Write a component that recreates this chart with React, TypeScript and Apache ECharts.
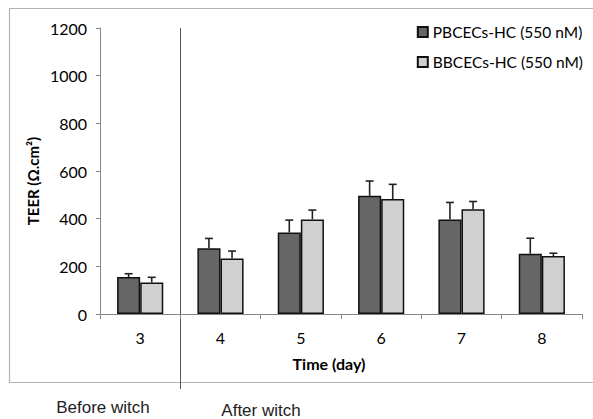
import React, { useEffect, useRef } from "react";
import * as echarts from "echarts";

const days = ["3", "4", "5", "6", "7", "8"];
const seriesNames = ["PBCECs-HC (550 nM)", "BBCECs-HC (550 nM)"];
const pbcec = [155, 276, 342, 496, 397, 253];
const pbcecErr = [14, 41, 52, 62, 71, 65];
const bbcec = [132, 233, 397, 482, 439, 243];
const bbcecErr = [22, 31, 39, 62, 33, 12];
const yTicks = { min: 0, max: 1200, interval: 200 };

const W = 593;
const H = 419;
const GRID = { left: 100, right: 11, top: 28, bottom: 105 };
const CAT_GAP = 0.425;
const FONT = "Lato, 'DejaVu Sans', sans-serif";

function errSeries(values: number[], errs: number[], side: number) {
  return {
    type: "custom",
    silent: true,
    z: 5,
    data: values.map((v, i) => [i, v, v + errs[i]]),
    renderItem: (params: any, api: any) => {
      const band = api.size([1, 0])[0];
      const barW = (band * (1 - CAT_GAP)) / 2;
      const base = api.coord([api.value(0), api.value(1)]);
      const top = api.coord([api.value(0), api.value(2)]);
      const x = base[0] + (side * barW) / 2;
      const style = { stroke: "#222", lineWidth: 1.6 };
      return {
        type: "group",
        children: [
          { type: "line", shape: { x1: x, y1: base[1], x2: x, y2: top[1] }, style },
          { type: "line", shape: { x1: x - 4, y1: top[1], x2: x + 4, y2: top[1] }, style },
        ],
      };
    },
  };
}

export default function App() {
  const ref = useRef<HTMLDivElement>(null);
  useEffect(() => {
    if (!ref.current) return;
    const chart = echarts.init(ref.current, null, { renderer: "svg" });
    const plotW = W - GRID.left - GRID.right;
    const divX = Math.round(GRID.left + plotW / days.length) + 0.5;
    chart.setOption({
      animation: false,
      backgroundColor: "#fff",
      grid: { ...GRID, containLabel: false },
      legend: {
        orient: "vertical",
        right: 5,
        top: 17,
        itemWidth: 10,
        itemHeight: 10,
        itemGap: 10,
        icon: "rect",
        textStyle: { fontFamily: FONT, fontSize: 15.5, color: "#000", lineHeight: 20 },
        data: seriesNames,
      },
      xAxis: {
        type: "category",
        data: days,
        axisLine: { lineStyle: { color: "#868686", width: 1 } },
        axisTick: { show: true, length: 5, lineStyle: { color: "#868686" } },
        axisLabel: { fontFamily: FONT, fontSize: 16, color: "#000", margin: 15 },
        splitLine: { show: false },
      },
      yAxis: {
        type: "value",
        ...yTicks,
        axisLine: { show: true, lineStyle: { color: "#868686", width: 1 } },
        axisTick: { show: true, length: 4, lineStyle: { color: "#868686" } },
        axisLabel: {
          fontFamily: FONT,
          fontSize: 16,
          color: "#000",
          margin: 13,
          formatter: (v: number) => String(v),
        },
        splitLine: { show: false },
      },
      series: [
        {
          name: seriesNames[0],
          type: "bar",
          data: pbcec,
          barGap: "0%",
          barCategoryGap: CAT_GAP * 100 + "%",
          itemStyle: { color: "#666666", borderColor: "#111", borderWidth: 1.5 },
        },
        {
          name: seriesNames[1],
          type: "bar",
          data: bbcec,
          barGap: "0%",
          barCategoryGap: CAT_GAP * 100 + "%",
          itemStyle: { color: "#d0d0d0", borderColor: "#111", borderWidth: 1.5 },
        },
        errSeries(pbcec, pbcecErr, -1),
        errSeries(bbcec, bbcecErr, 1),
      ],
      graphic: [
        {
          type: "rect",
          shape: { x: 9.5, y: 8.5, width: 600, height: 374 },
          style: { fill: "none", stroke: "#b4b4b4", lineWidth: 1.2 },
          silent: true,
          z: -1,
        },
        {
          type: "line",
          shape: { x1: divX, y1: GRID.top, x2: divX, y2: 389 },
          style: { stroke: "#555", lineWidth: 1 },
          silent: true,
        },
        {
          type: "text",
          x: 33,
          y: 181,
          rotation: Math.PI / 2,
          style: {
            text: "TEER (Ω.cm²)",
            font: "bold 15px " + FONT,
            fill: "#000",
            textAlign: "center",
            textVerticalAlign: "middle",
          },
        },
        {
          type: "text",
          x: 329,
          y: 363,
          style: {
            text: "Time (day)",
            font: "bold 16px " + FONT,
            fill: "#000",
            textAlign: "center",
            textVerticalAlign: "middle",
          },
        },
        {
          type: "text",
          x: 103,
          y: 407,
          style: {
            text: "Before witch",
            font: "17px 'Liberation Sans', Arial, sans-serif",
            fill: "#222",
            textAlign: "center",
            textVerticalAlign: "middle",
          },
        },
        {
          type: "text",
          x: 261,
          y: 410,
          style: {
            text: "After witch",
            font: "17px 'Liberation Sans', Arial, sans-serif",
            fill: "#222",
            textAlign: "center",
            textVerticalAlign: "middle",
          },
        },
      ],
    });
    return () => chart.dispose();
  }, []);
  return (
    <div
      ref={ref}
      style={{ position: "fixed", left: 0, top: 0, width: W + "px", height: H + "px" }}
    />
  );
}
